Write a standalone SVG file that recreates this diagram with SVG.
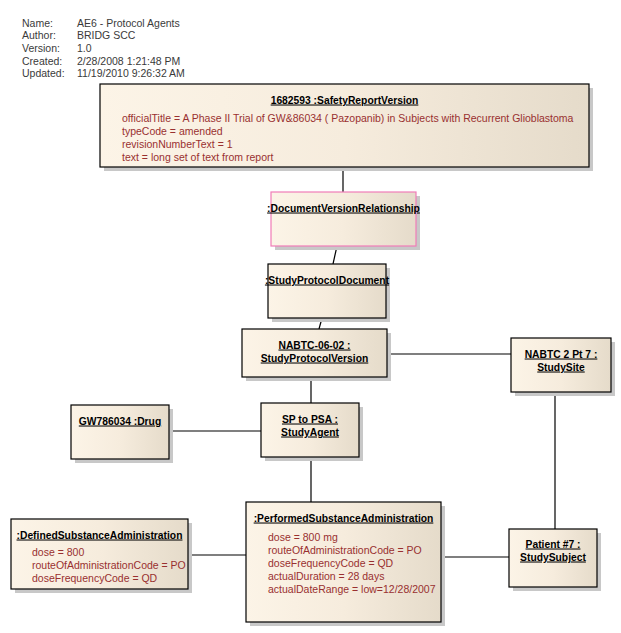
<svg xmlns="http://www.w3.org/2000/svg" width="621" height="633" viewBox="0 0 621 633">
<style>
text{font-family:"Liberation Sans",Arial,sans-serif;font-size:10.5px}
.hdr{fill:#3a3a3a}
.ttl{font-weight:bold;fill:#000;text-anchor:middle;text-decoration:underline;font-size:10.3px}
.att{fill:#993030}
.box{fill:url(#g);stroke:#000;stroke-width:1.2}
.pink{stroke:#f07cb8}
.sh{fill:#c8c8c8}
.con line{stroke:#000;stroke-width:1.2}
</style>
<defs>
<linearGradient id="g" x1="0" y1="0" x2="1" y2="0">
<stop offset="0" stop-color="#fcf4e7"/>
<stop offset="0.5" stop-color="#f6ecdd"/>
<stop offset="1" stop-color="#e5dbca"/>
</linearGradient>
</defs>
<rect width="621" height="633" fill="#fff"/>
<g id="header" class="hdr">
<text x="22" y="26.5" class="hdr">Name:</text><text x="77" y="26.5" class="hdr">AE6 - Protocol Agents</text>
<text x="22" y="39.2" class="hdr">Author:</text><text x="77" y="39.2" class="hdr">BRIDG SCC</text>
<text x="22" y="51.9" class="hdr">Version:</text><text x="77" y="51.9" class="hdr">1.0</text>
<text x="22" y="64.6" class="hdr">Created:</text><text x="77" y="64.6" class="hdr">2/28/2008 1:21:48 PM</text>
<text x="22" y="77.3" class="hdr">Updated:</text><text x="77" y="77.3" class="hdr">11/19/2010 9:26:32 AM</text>
</g>
<g id="connectors" class="con">
<line x1="343" y1="167" x2="343" y2="192"/>
<line x1="337" y1="246" x2="333" y2="264"/>
<line x1="322" y1="318" x2="319" y2="329"/>
<line x1="387" y1="354" x2="511" y2="354"/>
<line x1="311" y1="377" x2="311" y2="403"/>
<line x1="169" y1="431" x2="261" y2="431"/>
<line x1="311" y1="457" x2="311" y2="502"/>
<line x1="188" y1="555" x2="246" y2="555"/>
<line x1="441" y1="557" x2="509" y2="557"/>
<line x1="555" y1="392" x2="555" y2="529"/>
</g>
<g id="SafetyReportVersion">
<rect class="sh" x="104" y="88" width="489" height="83"/>
<rect class="box" x="100" y="84" width="489" height="83"/>
<text class="ttl" x="344.5" y="103.5">1682593 :SafetyReportVersion</text>
<text class="att" x="122" y="122">officialTitle = A Phase II Trial of GW&amp;86034 ( Pazopanib) in Subjects with Recurrent Glioblastoma</text>
<text class="att" x="122" y="135">typeCode = amended</text>
<text class="att" x="122" y="148">revisionNumberText = 1</text>
<text class="att" x="122" y="161">text = long set of text from report</text>
</g>
<g id="DocumentVersionRelationship">
<rect class="sh" x="275" y="196" width="145" height="54"/>
<rect class="box pink" x="271" y="192" width="145" height="54"/>
<text class="ttl" x="343.5" y="211.5">:DocumentVersionRelationship</text>
</g>
<g id="StudyProtocolDocument">
<rect class="sh" x="272" y="268" width="118" height="54"/>
<rect class="box" x="268" y="264" width="118" height="54"/>
<text class="ttl" x="327" y="283.5">:StudyProtocolDocument</text>
</g>
<g id="StudyProtocolVersion">
<rect class="sh" x="246" y="333" width="145" height="48"/>
<rect class="box" x="242" y="329" width="145" height="48"/>
<text class="ttl" x="314.5" y="348.5">NABTC-06-02 :</text>
<text class="ttl" x="314.5" y="361.5">StudyProtocolVersion</text>
</g>
<g id="StudySite">
<rect class="sh" x="515" y="342" width="100" height="54"/>
<rect class="box" x="511" y="338" width="100" height="54"/>
<text class="ttl" x="561" y="357.5">NABTC 2 Pt 7 :</text>
<text class="ttl" x="561" y="370.5">StudySite</text>
</g>
<g id="Drug">
<rect class="sh" x="75" y="409" width="98" height="54"/>
<rect class="box" x="71" y="405" width="98" height="54"/>
<text class="ttl" x="120" y="424.5">GW786034 :Drug</text>
</g>
<g id="StudyAgent">
<rect class="sh" x="265" y="407" width="98" height="54"/>
<rect class="box" x="261" y="403" width="98" height="54"/>
<text class="ttl" x="310" y="422.5">SP to PSA :</text>
<text class="ttl" x="310" y="435.5">StudyAgent</text>
</g>
<g id="PerformedSubstanceAdministration">
<rect class="sh" x="250" y="506" width="195" height="120"/>
<rect class="box" x="246" y="502" width="195" height="120"/>
<text class="ttl" x="343.5" y="521.5">:PerformedSubstanceAdministration</text>
<text class="att" x="268" y="541">dose = 800 mg</text>
<text class="att" x="268" y="554">routeOfAdministrationCode = PO</text>
<text class="att" x="268" y="567">doseFrequencyCode = QD</text>
<text class="att" x="268" y="580">actualDuration = 28 days</text>
<text class="att" x="268" y="593">actualDateRange = low=12/28/2007</text>
</g>
<g id="DefinedSubstanceAdministration">
<rect class="sh" x="15" y="523" width="177" height="70"/>
<rect class="box" x="11" y="519" width="177" height="70"/>
<text class="ttl" x="99.5" y="538.5">:DefinedSubstanceAdministration</text>
<text class="att" x="32" y="556">dose = 800</text>
<text class="att" x="32" y="569">routeOfAdministrationCode = PO</text>
<text class="att" x="32" y="582">doseFrequencyCode = QD</text>
</g>
<g id="StudySubject">
<rect class="sh" x="513" y="533" width="88" height="58"/>
<rect class="box" x="509" y="529" width="88" height="58"/>
<text class="ttl" x="553" y="547.5">Patient #7 :</text>
<text class="ttl" x="553" y="560.5">StudySubject</text>
</g>
</svg>
